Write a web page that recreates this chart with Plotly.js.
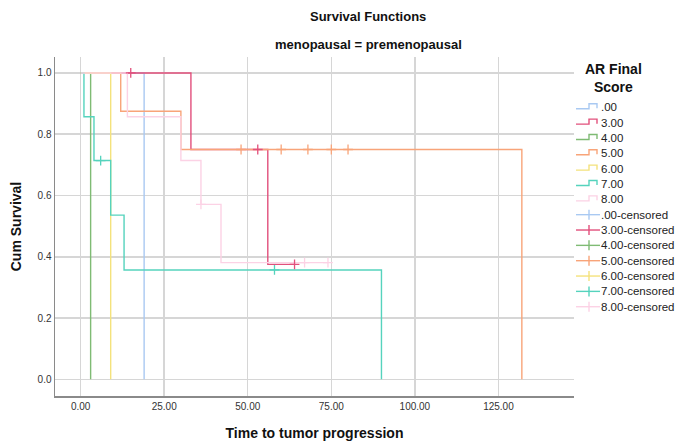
<!DOCTYPE html>
<html>
<head>
<meta charset="utf-8">
<script src="https://cdn.plot.ly/plotly-3.0.1.min.js"></script>
<style>
  html, body { margin: 0; padding: 0; background: #ffffff; }
  #chart { width: 677px; height: 445px; }
</style>
</head>
<body>
<div id="chart"></div>
<script>
// Kaplan-Meier survival for premenopausal patients, grouped by AR final score.
var groupNames = ['.00', '3.00', '4.00', '5.00', '6.00', '7.00', '8.00'];
var groupColors = ['#a9c9f2', '#e2507c', '#7fbb74', '#f8a479', '#f4e27c', '#55d3bd', '#fcd2e5'];

// Step curves: time at which each step starts and the survival level after it
var stepTimes = [
  [0, 19],
  [0, 33, 56, 64],
  [0, 3],
  [0, 12, 30, 132],
  [0, 9],
  [0, 1, 4, 9, 13, 90],
  [0, 14, 30, 36, 42, 74]
];
var stepSurv = [
  [1, 0],
  [1, 0.75, 0.375, 0.375],
  [1, 0],
  [1, 0.875, 0.75, 0],
  [1, 0],
  [1, 0.857, 0.714, 0.536, 0.357, 0],
  [1, 0.857, 0.714, 0.571, 0.381, 0.381]
];

// Censored observations
var censTimes = [
  [],
  [15, 53, 64],
  [],
  [48, 60, 68, 75, 80],
  [],
  [6, 58],
  [36, 67, 74]
];
var censSurv = [
  [],
  [1, 0.75, 0.375],
  [],
  [0.75, 0.75, 0.75, 0.75, 0.75],
  [],
  [0.714, 0.357],
  [0.571, 0.381, 0.381]
];

var xTickVals = [0, 25, 50, 75, 100, 125];
var yTickVals = [0, 0.2, 0.4, 0.6, 0.8, 1.0];

var FONT = 'Liberation Sans, Arial, sans-serif';

var traces = [];
groupNames.forEach(function (name, i) {
  traces.push({
    type: 'scatter', mode: 'lines', name: name,
    x: stepTimes[i], y: stepSurv[i],
    line: { shape: 'hv', color: groupColors[i], width: 1.4 },
    showlegend: false, hoverinfo: 'skip'
  });
});
groupNames.forEach(function (name, i) {
  traces.push({
    type: 'scatter', mode: 'markers', name: name + '-censored',
    x: censTimes[i], y: censSurv[i],
    marker: { symbol: 'cross-thin', size: 7, color: groupColors[i],
              line: { color: groupColors[i], width: 1.3 } },
    showlegend: false, hoverinfo: 'skip'
  });
});

// Plot area in pixels
var L = 55, R = 574, T = 57, B = 396;
function px(x) { return (x - L) / (R - L); }
function py(y) { return (B - y) / (B - T); }

var shapes = [];
var annotations = [];

// Legend drawn by hand to keep the compact row spacing
var rowY0 = 107.3, rowStep = 15.34;
var legendLabels = groupNames.concat(groupNames.map(function (n) { return n + '-censored'; }));
legendLabels.forEach(function (label, k) {
  var y = rowY0 + k * rowStep;
  var c = groupColors[k % groupNames.length];
  var path;
  if (k < groupNames.length) {
    path = 'M' + px(576) + ',' + py(y + 1.5) +
           ' L' + px(589) + ',' + py(y + 1.5) +
           ' L' + px(589) + ',' + py(y - 3.5) +
           ' L' + px(597) + ',' + py(y - 3.5) +
           ' L' + px(597) + ',' + py(y + 1);
    shapes.push({ type: 'path', xref: 'paper', yref: 'paper', path: path,
                  line: { color: c, width: 1.4 } });
  } else {
    shapes.push({ type: 'line', xref: 'paper', yref: 'paper',
                  x0: px(576), x1: px(600), y0: py(y), y1: py(y),
                  line: { color: c, width: 1.4 } });
    shapes.push({ type: 'line', xref: 'paper', yref: 'paper',
                  x0: px(589), x1: px(589), y0: py(y - 5), y1: py(y + 5),
                  line: { color: c, width: 1.4 } });
  }
  annotations.push({ xref: 'paper', yref: 'paper', x: px(598.5), y: py(y),
                     xanchor: 'left', yanchor: 'middle', showarrow: false,
                     text: label, font: { family: FONT, size: 11.5, color: '#222' } });
});

annotations.push({ xref: 'paper', yref: 'paper', x: px(613), y: py(77.5),
                   xanchor: 'center', yanchor: 'middle', showarrow: false,
                   text: '<b>AR Final</b><br><b>Score</b>', align: 'center',
                   font: { family: FONT, size: 14, color: '#111' } });

// Titles
annotations.push({ xref: 'paper', yref: 'paper', x: px(368), y: py(17),
                   xanchor: 'center', yanchor: 'middle', showarrow: false,
                   text: '<b>Survival Functions</b>',
                   font: { family: FONT, size: 13, color: '#111' } });
annotations.push({ xref: 'paper', yref: 'paper', x: px(368), y: py(45),
                   xanchor: 'center', yanchor: 'middle', showarrow: false,
                   text: '<b>menopausal = premenopausal</b>',
                   font: { family: FONT, size: 13, color: '#111' } });

var layout = {
  width: 677, height: 445,
  margin: { l: L, r: 677 - R, t: T, b: 445 - B, pad: 0 },
  paper_bgcolor: '#ffffff', plot_bgcolor: '#ffffff',
  showlegend: false,
  font: { family: FONT, size: 10, color: '#333' },
  xaxis: {
    range: [-7.66, 147.6], tickvals: xTickVals, tickformat: '.2f',
    showgrid: true, gridcolor: '#d6d6d6', gridwidth: 1.5,
    zeroline: false, showline: true, linecolor: '#8a8a8a', linewidth: 1.5,
    ticks: '', ticklen: 0, tickfont: { family: FONT, size: 10, color: '#333' },
    title: { text: '<b>Time to tumor progression</b>', standoff: 17,
             font: { family: FONT, size: 14, color: '#111' } }
  },
  yaxis: {
    range: [-0.0545, 1.052], tickvals: yTickVals, tickformat: '.1f',
    showgrid: true, gridcolor: '#d6d6d6', gridwidth: 1.5,
    zeroline: false, showline: true, linecolor: '#8a8a8a', linewidth: 1.5,
    ticks: '', ticklen: 0, tickfont: { family: FONT, size: 10, color: '#333' },
    title: { text: '<b>Cum Survival</b>', standoff: 12,
             font: { family: FONT, size: 14, color: '#111' } }
  },
  shapes: shapes,
  annotations: annotations
};

Plotly.newPlot('chart', traces, layout, { displayModeBar: false, staticPlot: true });
</script>
</body>
</html>
